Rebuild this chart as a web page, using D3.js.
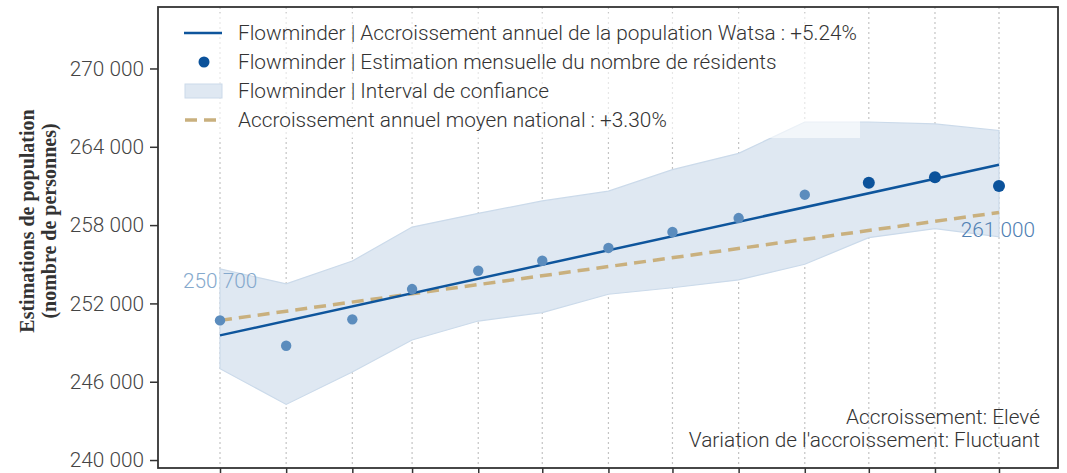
<!DOCTYPE html>
<html>
<head>
<meta charset="utf-8">
<script src="https://cdn.jsdelivr.net/npm/d3@7"></script>
<style>
  html, body { margin: 0; padding: 0; background: #fff; }
  svg { display: block; }
  .tick text { font-family: Roboto, sans-serif; font-weight: 300; fill: #444; }
</style>
</head>
<body>
<svg id="chart" width="1067" height="473"></svg>
<script>
// Monthly observations (first day of each month)
const months = ["2022-12-01","2023-01-01","2023-02-01","2023-03-01","2023-04-01","2023-05-01",
                "2023-06-01","2023-07-01","2023-08-01","2023-09-01","2023-10-01","2023-11-01","2023-12-01"];
// Monthly estimate of residents
const residents = [250700, 248760, 250780, 253100, 254500, 255270, 256250, 257470, 258540, 260330, 261250, 261660, 261000];
// Confidence interval bounds
const ciLower = [247000, 244260, 246750, 249200, 250650, 251300, 252700, 253200, 253800, 255000, 257040, 257730, 257100];
const ciUpper = [254650, 253500, 255250, 257850, 258900, 259850, 260600, 262250, 263500, 265900, 265900, 265750, 265250];
// Whether the estimate is one of the most recent months (drawn darker)
const recent = [false, false, false, false, false, false, false, false, false, false, true, true, true];
// Local trend (start / end of period) and national average trend
const trendLocal = [249550, 262630];
const trendNational = [250700, 258970];
const yTicks = [240000, 246000, 252000, 258000, 264000, 270000];
const pointLabels = ["250 700", "261 000"];
const legendLabels = [
  "Flowminder | Accroissement annuel de la population Watsa : +5.24%",
  "Flowminder | Estimation mensuelle du nombre de résidents",
  "Flowminder | Interval de confiance",
  "Accroissement annuel moyen national : +3.30%"
];
const notes = ["Accroissement: Elevé", "Variation de l'accroissement: Fluctuant"];
const yTitle = ["Estimations de population", "(nombre de personnes)"];

const parse = d3.timeParse("%Y-%m-%d");
const dates = months.map(parse);

const svg = d3.select("#chart");
const frame = { left: 158, top: 7, right: 1058, bottom: 468 };
const FONT = "Roboto, sans-serif";
const FS = 20.8;

const x = d3.scaleTime()
  .domain([dates[0], dates[dates.length - 1]])
  .range([220, 999]);
const y = d3.scaleLinear()
  .domain([239390, 274710])
  .range([frame.bottom, frame.top]);

const fmt = v => d3.format(",")(v).replace(/,/g, " ");

// vertical dotted grid at each month
svg.append("g").selectAll("line").data(dates).join("line")
  .attr("x1", d => x(d)).attr("x2", d => x(d))
  .attr("y1", frame.top).attr("y2", frame.bottom)
  .attr("stroke", "#c4c4c4").attr("stroke-width", 1.2)
  .attr("stroke-dasharray", "2,3");

// confidence band
const idx = d3.range(dates.length);
const area = d3.area()
  .x(i => x(dates[i]))
  .y0(i => y(ciLower[i]))
  .y1(i => y(ciUpper[i]));
svg.append("path").datum(idx)
  .attr("d", area)
  .attr("fill", "#dfe8f2")
  .attr("stroke", "#cbdaea")
  .attr("stroke-width", 1.2);

// national average trend
svg.append("line")
  .attr("x1", x(dates[0])).attr("y1", y(trendNational[0]))
  .attr("x2", x(dates[dates.length - 1])).attr("y2", y(trendNational[1]))
  .attr("stroke", "#c9b07e").attr("stroke-width", 3.5)
  .attr("stroke-dasharray", "12,7");

// local trend
svg.append("line")
  .attr("x1", x(dates[0])).attr("y1", y(trendLocal[0]))
  .attr("x2", x(dates[dates.length - 1])).attr("y2", y(trendLocal[1]))
  .attr("stroke", "#0e559c").attr("stroke-width", 2.5);

// monthly estimates
svg.append("g").selectAll("circle").data(idx).join("circle")
  .attr("cx", i => x(dates[i]))
  .attr("cy", i => y(residents[i]))
  .attr("r", i => recent[i] ? 6 : 5.2)
  .attr("fill", i => recent[i] ? "#0b529b" : "#5b8cbd");

// first / last value labels
svg.append("text")
  .attr("x", x(dates[0]) - 37).attr("y", y(residents[0]) - 32)
  .attr("font-family", FONT).attr("font-weight", 300)
  .attr("font-size", FS).attr("fill", "#85a9cd")
  .text(pointLabels[0]);
svg.append("text")
  .attr("x", x(dates[dates.length - 1]) + 36).attr("y", y(residents[dates.length - 1]) + 51)
  .attr("text-anchor", "end")
  .attr("font-family", FONT).attr("font-weight", 300)
  .attr("font-size", FS).attr("fill", "#4f80b3")
  .text(pointLabels[1]);

// legend box
const lg = svg.append("g");
lg.append("rect")
  .attr("x", 172).attr("y", 13).attr("width", 688).attr("height", 125)
  .attr("fill", "#fff").attr("fill-opacity", 0.6);
const rowY = [33, 62, 91, 120];
lg.append("line").attr("x1", 184).attr("x2", 222).attr("y1", rowY[0]).attr("y2", rowY[0])
  .attr("stroke", "#0e559c").attr("stroke-width", 2.5);
lg.append("circle").attr("cx", 204).attr("cy", rowY[1]).attr("r", 5.5).attr("fill", "#0b529b");
lg.append("rect").attr("x", 185).attr("y", rowY[2] - 7).attr("width", 37).attr("height", 14)
  .attr("fill", "#dfe8f2").attr("stroke", "#cbdaea");
lg.append("line").attr("x1", 185).attr("x2", 222).attr("y1", rowY[3]).attr("y2", rowY[3])
  .attr("stroke", "#c9b07e").attr("stroke-width", 3.5).attr("stroke-dasharray", "12,7");
lg.selectAll("text.lab").data(legendLabels).join("text")
  .attr("class", "lab")
  .attr("x", 238).attr("y", (d, i) => rowY[i] + 7)
  .attr("font-family", FONT).attr("font-weight", 300)
  .attr("font-size", FS).attr("fill", "#333")
  .text(d => d);

// notes
svg.selectAll("text.note").data(notes).join("text")
  .attr("class", "note")
  .attr("x", 1040).attr("y", (d, i) => 424 + i * 23)
  .attr("text-anchor", "end")
  .attr("font-family", FONT).attr("font-weight", 300)
  .attr("font-size", FS).attr("fill", "#333")
  .text(d => d);

// axes
const yAxis = d3.axisLeft(y).tickValues(yTicks).tickFormat(fmt).tickSize(8).tickPadding(6);
const gy = svg.append("g").attr("transform", `translate(${frame.left},0)`).call(yAxis);
gy.select(".domain").remove();
gy.selectAll(".tick line").attr("stroke", "#333").attr("stroke-width", 1.5);
gy.selectAll(".tick text").attr("font-size", FS);

const xAxis = d3.axisBottom(x).tickValues(dates).tickFormat("").tickSize(8);
const gx = svg.append("g").attr("transform", `translate(0,${frame.bottom})`).call(xAxis);
gx.select(".domain").remove();
gx.selectAll(".tick line").attr("stroke", "#333").attr("stroke-width", 1.5);

// frame
svg.append("rect")
  .attr("x", frame.left).attr("y", frame.top)
  .attr("width", frame.right - frame.left).attr("height", frame.bottom - frame.top)
  .attr("fill", "none").attr("stroke", "#333").attr("stroke-width", 1.8);

// y title
const ty = svg.append("text")
  .attr("transform", "translate(34,221) rotate(-90)")
  .attr("text-anchor", "middle")
  .attr("font-family", "'Liberation Serif', 'DejaVu Serif', serif").attr("font-weight", 700)
  .attr("font-size", 20).attr("fill", "#333");
ty.selectAll("tspan").data(yTitle).join("tspan")
  .attr("x", 0).attr("dy", (d, i) => i === 0 ? 0 : 22)
  .text(d => d);
</script>
</body>
</html>
